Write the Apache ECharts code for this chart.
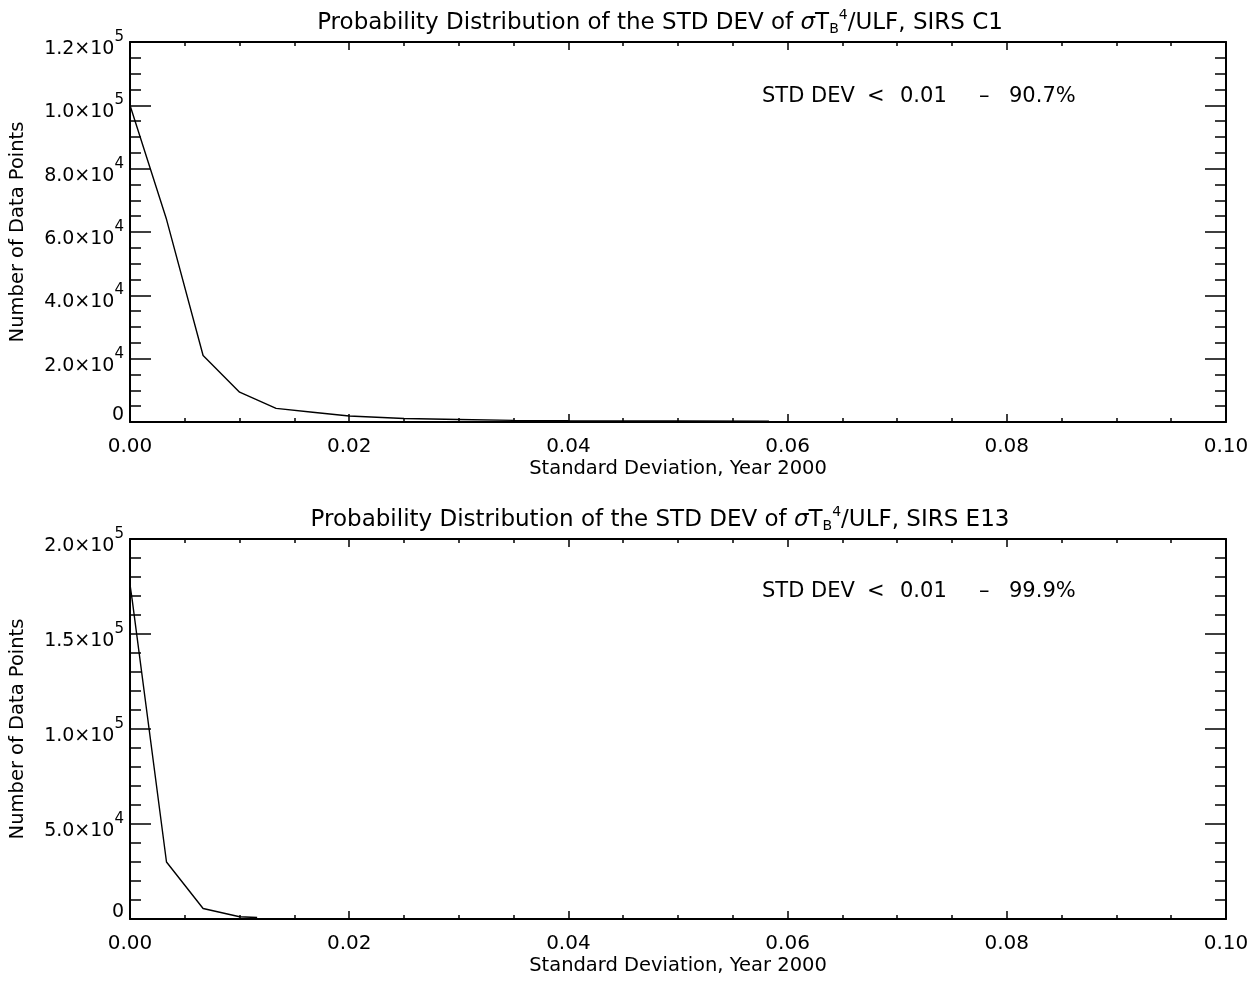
<!DOCTYPE html>
<html><head><meta charset="utf-8">
<script src="https://cdn.jsdelivr.net/npm/echarts@6/dist/echarts.min.js"></script>
<style>html,body{margin:0;padding:0;background:#fff}#c{width:1257px;height:981px}</style>
</head><body><div id="c"></div>
<script>
// ---- data ----
const stdDevTop = [0, 0.00333, 0.00667, 0.01, 0.01333, 0.01667, 0.02, 0.025, 0.03, 0.035, 0.04, 0.045, 0.05, 0.0583];
const countTop  = [100000, 64000, 21000, 9400, 4300, 3100, 1900, 1100, 800, 500, 400, 350, 300, 250];
const stdDevBot = [0, 0.0002, 0.00333, 0.00667, 0.01, 0.0116];
const countBot  = [176000, 168000, 30000, 5500, 1200, 800];
const sites = ['SIRS C1', 'SIRS E13'];
const pctBelow = ['90.7%', '99.9%'];
const xTitle = 'Standard Deviation, Year 2000';
const yTitle = 'Number of Data Points';
const xRange = [0, 0.10, 0.02];
const yRangeTop = [0, 120000, 20000];
const yRangeBot = [0, 200000, 50000];

const FONT = 'DejaVu Sans';
const chart = echarts.init(document.getElementById('c'), null, {renderer: 'canvas'});

function yFmt(v) {
  if (v === 0) return '{z|0}';
  const e = Math.floor(Math.log10(v) + 1e-9);
  const m = (v / Math.pow(10, e)).toFixed(1);
  return '{a|' + m + '×10}{s|' + e + '}';
}
const yRich = {
  a: {fontFamily: FONT, fontSize: 19, color: '#000', padding: [14, 0, 0, 0]},
  s: {fontFamily: FONT, fontSize: 15, color: '#000', padding: [0, 0, 10, 0]},
  z: {fontFamily: FONT, fontSize: 19, color: '#000', padding: [0, 0, 14, 0]}
};
const axLine = {show: true, onZero: false, lineStyle: {color: '#000', width: 2}};

function xAxes(gi) {
  const base = {
    type: 'value', gridIndex: gi, min: xRange[0], max: xRange[1], interval: xRange[2],
    axisLine: axLine, splitLine: {show: false},
    minorTick: {show: true, splitNumber: 4, length: 4, lineStyle: {color: '#000', width: 1.5}},
    axisTick: {show: true, inside: true, length: 8, lineStyle: {color: '#000', width: 1.5}}
  };
  return [
    Object.assign({}, base, {
      position: 'bottom',
      axisLabel: {show: true, margin: 15, color: '#000', fontFamily: FONT, fontSize: 20,
        formatter: v => v.toFixed(2)},
      name: xTitle, nameLocation: 'middle', nameGap: 37,
      nameTextStyle: {color: '#000', fontFamily: FONT, fontSize: 19.5}
    }),
    Object.assign({}, base, {position: 'top', axisLabel: {show: false}})
  ];
}
function yAxes(gi, range, minorSplit) {
  const base = {
    type: 'value', gridIndex: gi, min: range[0], max: range[1], interval: range[2],
    axisLine: axLine, splitLine: {show: false},
    minorTick: {show: true, splitNumber: minorSplit, length: 11, lineStyle: {color: '#000', width: 1.5}},
    axisTick: {show: true, inside: true, length: 21, lineStyle: {color: '#000', width: 1.5}}
  };
  return [
    Object.assign({}, base, {
      position: 'left',
      axisLabel: {show: true, margin: 6, formatter: yFmt, rich: yRich},
      name: yTitle, nameLocation: 'middle', nameGap: 102, nameRotate: 90,
      nameTextStyle: {color: '#000', fontFamily: FONT, fontSize: 19.5}
    }),
    Object.assign({}, base, {position: 'right', axisLabel: {show: false}})
  ];
}

const titleRich = {
  t: {fontFamily: FONT, fontSize: 23, fill: '#000'},
  g: {fontFamily: FONT, fontSize: 23, fill: '#000', fontStyle: 'italic'},
  sub: {fontFamily: FONT, fontSize: 14, fill: '#000', padding: [12, 0, 0, 0]},
  sup: {fontFamily: FONT, fontSize: 14, fill: '#000', padding: [0, 0, 16, 0]}
};
const graphics = [];
const titleY = [23, 520];
const noteY = [97, 592];
sites.forEach((s, i) => {
  graphics.push({
    type: 'text', x: 660, y: titleY[i],
    style: {
      text: '{t|Probability Distribution of the STD DEV of }{g|σ}{t|T}{sub|B}{sup|4}{t|/ULF, ' + s + '}',
      rich: titleRich, align: 'center', verticalAlign: 'middle'
    }
  });
  const parts = ['STD DEV', '<', '0.01', '–', pctBelow[i]];
  const px = [762, 867, 900, 979, 1009];
  parts.forEach((p, k) => {
    graphics.push({
      type: 'text', x: px[k], y: noteY[i],
      style: {text: p, fontFamily: FONT, fontSize: 21, fill: '#000', verticalAlign: 'middle', align: 'left'}
    });
  });
});

const option = {
  animation: false,
  backgroundColor: '#fff',
  grid: [
    {left: 130, top: 42, width: 1096, height: 380, containLabel: false, outerBoundsMode: 'none'},
    {left: 130, top: 539, width: 1096, height: 380, containLabel: false, outerBoundsMode: 'none'}
  ],
  xAxis: [...xAxes(0), ...xAxes(1)],
  yAxis: [...yAxes(0, yRangeTop, 4), ...yAxes(1, yRangeBot, 5)],
  series: [
    {type: 'line', xAxisIndex: 0, yAxisIndex: 0, showSymbol: false, symbol: 'none',
     lineStyle: {color: '#000', width: 1.4}, data: stdDevTop.map((x, i) => [x, countTop[i]])},
    {type: 'line', xAxisIndex: 2, yAxisIndex: 2, showSymbol: false, symbol: 'none',
     lineStyle: {color: '#000', width: 1.4}, data: stdDevBot.map((x, i) => [x, countBot[i]])}
  ],
  graphic: graphics
};
chart.setOption(option);
</script></body></html>
